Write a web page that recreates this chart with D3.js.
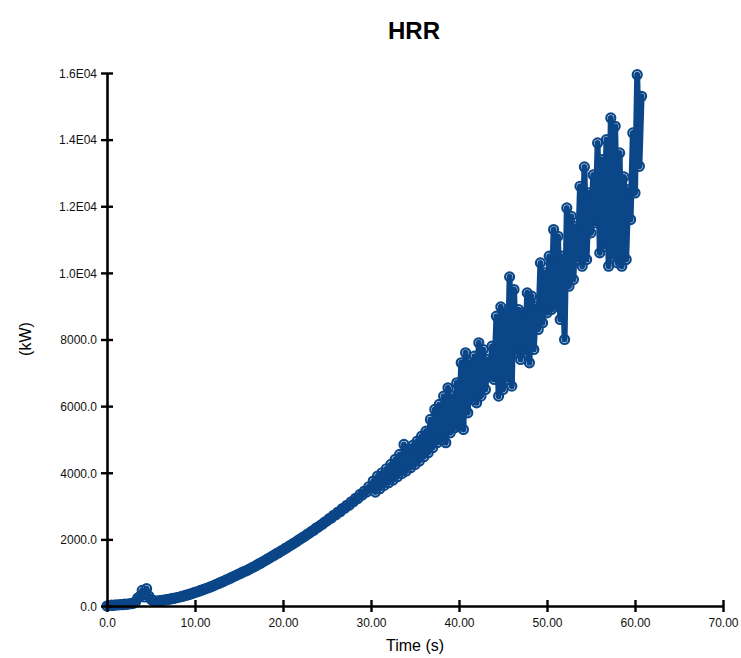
<!DOCTYPE html>
<html>
<head>
<meta charset="utf-8">
<script src="https://cdn.jsdelivr.net/npm/d3@7/dist/d3.min.js"></script>
<style>
  html, body { margin: 0; padding: 0; background: #ffffff; }
  svg { display: block; }
</style>
</head>
<body>
<svg id="chart" width="741" height="658"></svg>
<script>
// Heat release rate device output, sampled every 0.25 s
const sampleStep = 0.25;
const hrr = [
  // 0 - 3.0 s
  0, 15, 25, 20, 35, 30, 45, 40, 55, 50, 65, 70, 85,
  // 3.25 - 5.5 s (early flare-up)
  130, 240, 290, 470, 270, 520, 300, 200, 160, 150,
  // 5.75 - 10.0 s
  150, 160, 168, 178, 190, 200, 212, 226, 238, 255, 270, 286, 303, 325, 340, 362, 385, 410,
  // 10.25 - 15.0 s
  428, 452, 474, 500, 522, 548, 572, 600, 626, 656, 684, 715, 742, 776, 803, 835, 866, 898, 928, 960,
  // 15.25 - 20.0 s
  992, 1025, 1050, 1080, 1118, 1150, 1185, 1220, 1262, 1290, 1336, 1370, 1412, 1445, 1490, 1525, 1570, 1600, 1648, 1680,
  // 20.25 - 25.0 s
  1728, 1760, 1808, 1845, 1890, 1925, 1978, 2015, 2060, 2098, 2150, 2190, 2240, 2275, 2335, 2370, 2420, 2462, 2520, 2555,
  // 25.25 - 30.0 s
  2620, 2640, 2722, 2735, 2820, 2830, 2925, 2930, 3025, 3020, 3130, 3125, 3235, 3225, 3350, 3330, 3450, 3420, 3580, 3540,
  // 30.25 - 35.0 s
  3750, 3420, 3900, 3520, 4000, 3620, 4120, 3700, 4250, 3780, 4400, 3880, 4550, 3980, 4850, 4050, 4700, 4150, 4820, 4250,
  // 35.25 - 40.0 s
  4950, 4350, 5100, 4480, 5250, 4600, 5600, 4750, 5900, 4900, 6050, 5000, 6300, 4900, 6550, 5200, 6300, 5350, 6700, 5400,
  // 40.25 - 45.0 s
  7300, 5300, 7600, 5800, 7300, 6200, 7500, 6100, 7900, 6300, 7700, 6500, 7400, 6900, 7800, 6800, 8700, 6300, 8980, 6500,
  // 45.25 - 50.0 s
  8800, 6800, 9880, 6600, 9500, 7600, 8900, 7400, 8800, 7600, 9400, 7300, 9300, 7700, 9000, 8300, 10300, 8500, 10000, 8800,
  // 50.25 - 55.0 s
  10500, 8900, 11300, 9000, 11100, 8600, 10500, 8000, 11950, 9600, 11700, 9800, 11400, 10400, 12600, 10200, 13180, 10400, 12400, 11200,
  // 55.25 - 60.0 s
  12940, 11500, 13900, 10600, 13400, 10800, 14000, 10200, 14650, 10500, 14400, 10300, 13600, 10200, 12880, 10400, 12500, 11600, 14200, 12400,
  // 60.25 - 60.75 s
  15950, 13200, 15300
];

const xTicks = [0, 10, 20, 30, 40, 50, 60, 70];
const xTickLabels = ["0.0", "10.00", "20.00", "30.00", "40.00", "50.00", "60.00", "70.00"];
const yTicks = [0, 2000, 4000, 6000, 8000, 10000, 12000, 14000, 16000];
const yTickLabels = ["0.0", "2000.0", "4000.0", "6000.0", "8000.0", "1.0E04", "1.2E04", "1.4E04", "1.6E04"];

const titleText = "HRR";
const xTitle = "Time (s)";
const yTitle = "(kW)";

const series = hrr.map((v, i) => ({ t: i * sampleStep, q: v }));

const svg = d3.select("#chart");
const plot = { left: 107, right: 723, top: 73, bottom: 606 };
const blue = "#0b4688";
const font = "'Liberation Sans', Arial, sans-serif";

const x = d3.scaleLinear().domain([0, 70]).range([plot.left, plot.right]);
const y = d3.scaleLinear().domain([0, 16000]).range([plot.bottom, plot.top]);

// data: heavy line with open circle markers
const g = svg.append("g");
g.append("path")
  .datum(series)
  .attr("fill", "none")
  .attr("stroke", blue)
  .attr("stroke-width", 6)
  .attr("stroke-linejoin", "round")
  .attr("stroke-linecap", "round")
  .attr("d", d3.line().x(d => x(d.t)).y(d => y(d.q)));

g.selectAll("circle")
  .data(series)
  .join("circle")
  .attr("cx", d => x(d.t))
  .attr("cy", d => y(d.q))
  .attr("r", 4.5)
  .attr("fill", "none")
  .attr("stroke", blue)
  .attr("stroke-width", 2.2);

// axes with crossing tick marks
const xAxis = d3.axisBottom(x)
  .tickValues(xTicks)
  .tickFormat((d, i) => xTickLabels[i])
  .tickSizeInner(6).tickSizeOuter(0).tickPadding(5);
const xg = svg.append("g").attr("transform", `translate(0,${plot.bottom})`).call(xAxis);
xg.select(".domain").attr("stroke", "#000").attr("stroke-width", 2.6);
xg.selectAll(".tick line").attr("stroke", "#000").attr("stroke-width", 2.4).attr("y1", -6).attr("y2", 6);
xg.selectAll(".tick text").attr("y", 12).attr("dy", "0.71em")
  .style("font-family", font).style("font-size", "12px").attr("fill", "#111");

const yAxis = d3.axisLeft(y)
  .tickValues(yTicks)
  .tickFormat((d, i) => yTickLabels[i])
  .tickSizeInner(6).tickSizeOuter(0).tickPadding(5);
const yg = svg.append("g").attr("transform", `translate(${plot.left},0)`).call(yAxis);
yg.select(".domain").attr("stroke", "#000").attr("stroke-width", 2.6);
yg.selectAll(".tick line").attr("stroke", "#000").attr("stroke-width", 2.4).attr("x1", -6).attr("x2", 6);
yg.selectAll(".tick text").attr("x", -10).attr("dy", "0.36em")
  .style("font-family", font).style("font-size", "12px").attr("fill", "#111");

// titles
svg.append("text")
  .attr("x", 414).attr("y", 39)
  .attr("text-anchor", "middle")
  .style("font-family", font)
  .style("font-size", "24px").style("font-weight", "bold")
  .text(titleText);

svg.append("text")
  .attr("x", 415).attr("y", 651)
  .attr("text-anchor", "middle")
  .style("font-family", font)
  .style("font-size", "16px")
  .text(xTitle);

svg.append("text")
  .attr("transform", "translate(31,339) rotate(-90)")
  .attr("text-anchor", "middle")
  .style("font-family", font)
  .style("font-size", "16px")
  .text(yTitle);
</script>
</body>
</html>
